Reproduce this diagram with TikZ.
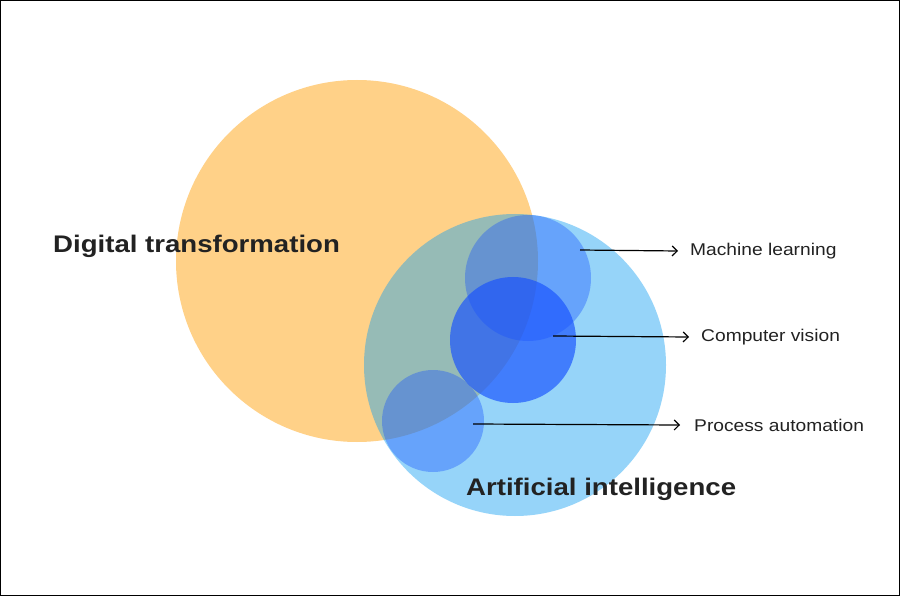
\documentclass[tikz,border=0pt]{standalone}
\usepackage{fontspec}
\setmainfont{Liberation Sans}
\usetikzlibrary{arrows.meta}
\definecolor{dtorange}{HTML}{FFD188}
\definecolor{ailight}{HTML}{109FF3}
\definecolor{subblue}{HTML}{1650FF}
\definecolor{txt}{HTML}{222222}
\newcommand{\wideB}[1]{\scalebox{1.15}[1]{#1}}
\newcommand{\wideS}[1]{\scalebox{1.13}[1]{#1}}
\begin{document}
\begin{tikzpicture}[x=1pt,y=-1pt,
  big/.style={font=\fontsize{24}{27}\selectfont\bfseries,text=txt,anchor=west,inner sep=0},
  lab/.style={font=\fontsize{17}{20}\selectfont,text=txt,anchor=west,inner sep=0},
  arr/.style={-{Straight Barb[length=5pt,width=10pt]},line width=1.2pt}]
\draw[line width=0.8pt,fill=white] (0.4,0.4) rectangle (899.6,595.6);
\useasboundingbox (0,0) rectangle (900,596);
\fill[dtorange] (357,261) circle (181);
\fill[ailight,opacity=0.44] (515,365) circle (151);
\fill[subblue,opacity=0.37] (528,278) circle (63);
\fill[subblue,opacity=0.66] (513,340) circle (63);
\fill[subblue,opacity=0.37] (433,421) circle (51);
\coordinate (mlS) at (580,250);
\coordinate (cvS) at (553,336);
\coordinate (paS) at (473,424);
\node[lab] (ml) at (690,251) {\wideS{Machine learning}};
\node[lab] (cv) at (701,337) {\wideS{Computer vision}};
\node[lab] (pa) at (694,425) {\wideS{Process automation}};
\draw[arr] (mlS) -- ([xshift=-12pt]ml.west);
\draw[arr] (cvS) -- ([xshift=-12pt]cv.west);
\draw[arr] (paS) -- ([xshift=-14pt]pa.west);
\node[big] (dt) at (53,246) {\wideB{Digital transformation}};
\node[big] (ai) at (466,489) {\wideB{Artificial intelligence}};
\end{tikzpicture}
\end{document}
